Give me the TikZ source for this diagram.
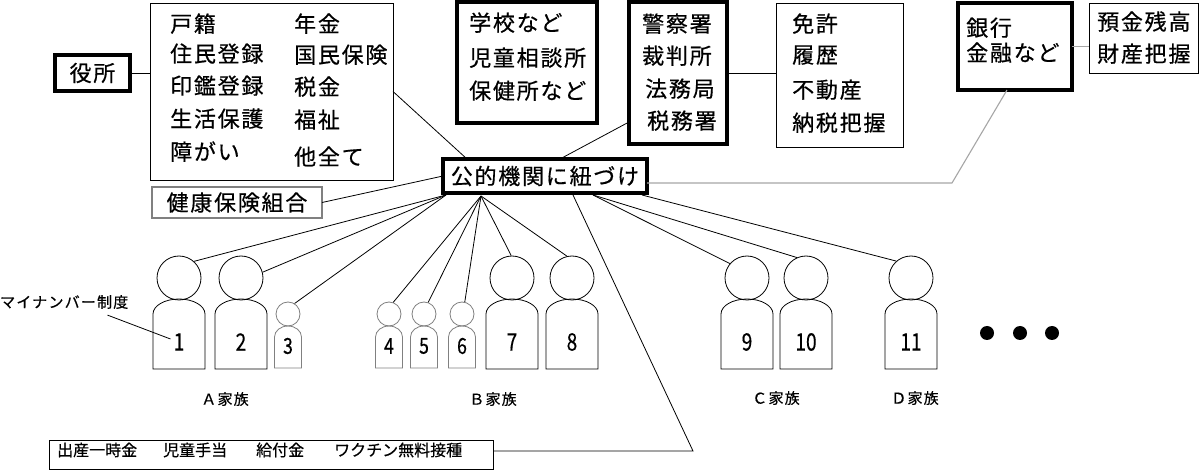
\documentclass[tikz,border=0pt]{standalone}
\usepackage{fontspec}
\setmainfont{Noto Sans CJK JP}[FakeBold=0.4]
\newfontfamily\jpfont[LetterSpace=8, FakeBold=0.5]{Noto Sans CJK JP}
\usetikzlibrary{calc}
\newcommand\jpbig{\jpfont\fontsize{22}{26}\selectfont}
\newcommand\jpsmall{\jpfont\fontsize{15}{18}\selectfont}
\newcommand\jpmid{\fontsize{16}{18}\selectfont}
\newcommand\boxat[7]{\node[#1, minimum width={#5-#3}, minimum height={#6-#4}] (#2) at ({(#3+#5)/2},{(#4+#6)/2}) {#7};}
\newcommand\bigman[3]{%
  \node[head, minimum size=44] (h#1) at (#2,278) {};
  \draw[body] (#2-26,369) -- (#2-26,314) arc[start angle=180,end angle=360,x radius=26,y radius=15] -- (#2+26,369) -- cycle;
  \node[numtext] (n#1) at (#2,342) {\scalebox{0.8}[1]{#3}};
}
\newcommand\smallman[3]{%
  \node[head, draw=gray, minimum size=24] (h#1) at (#2,314) {};
  \draw[body, draw=gray] (#2-13.5,368) -- (#2-13.5,337) arc[start angle=180,end angle=360,x radius=13.5,y radius=11] -- (#2+13.5,368) -- cycle;
  \node[numtext, font=\fontsize{22}{22}\selectfont] (n#1) at (#2,346) {\scalebox{0.8}[1]{#3}};
}
\tikzset{
  thickbox/.style={draw, line width=3.2pt, inner sep=0pt, outer sep=0pt, font=\jpbig},
  thinbox/.style={draw, line width=0.9pt, inner sep=0pt, outer sep=0pt, font=\jpbig},
  graybox/.style={draw=gray, line width=1.3pt, inner sep=0pt, outer sep=0pt, font=\jpbig},
  txt/.style={font=\jpbig, inner sep=0pt, anchor=base west},
  link/.style={line width=0.8pt},
  glink/.style={line width=1.1pt, draw=gray!70},
  head/.style={circle, draw, line width=0.8pt, inner sep=0pt},
  body/.style={line width=0.8pt},
  numtext/.style={inner sep=0pt, font=\fontsize{24}{24}\selectfont},
  famlabel/.style={inner sep=0pt, font=\jpsmall},
  dot/.style={circle, fill, minimum size=14, inner sep=0pt},
}
\begin{document}
\begin{tikzpicture}[x=1pt,y=-1pt]
\useasboundingbox[fill=white] (0,0) rectangle (1200,470);

% boxes
\boxat{thickbox}{yakusho}{55}{55}{130}{91}{役所}
\boxat{thinbox}{gyosei}{150}{3}{393}{180}{}
\boxat{graybox}{kenko}{152}{187}{322}{218}{健康保険組合}
\boxat{thickbox}{school}{457}{2}{597}{123}{}
\boxat{thickbox}{police}{629}{2}{727}{144}{}
\boxat{thinbox}{menkyo}{776}{3}{903}{147}{}
\boxat{thickbox}{k}{443}{159}{647}{193}{公的機関に紐づけ}
\boxat{thickbox}{bank}{958}{3}{1072}{90}{}
\boxat{thinbox}{yokin}{1089}{3}{1198}{73}{}
\boxat{thinbox}{kyufu}{49}{440}{493}{469}{}

% texts in the administrative box
\foreach \t/\y [count=\i] in {戸籍/32, 住民登録/62, 印鑑登録/94, 生活保護/127, 障がい/160}
  \node[txt] (gl\i) at (170,\y) {\t};
\foreach \t/\y [count=\i] in {年金/32, 国民保険/63, 税金/95, 福祉/128, 他全て/165}
  \node[txt] (gr\i) at (294,\y) {\t};
% school
\foreach \t/\y [count=\i] in {学校など/31, 児童相談所/66, 保健所など/99}
  \node[txt] (s\i) at (469,\y) {\t};
% police
\foreach \t/\y/\x [count=\i] in {警察署/32/642, 裁判所/64/642, 法務局/97/645, 税務署/129/647}
  \node[txt] (p\i) at (\x,\y) {\t};
% menkyo
\foreach \t/\y [count=\i] in {免許/32, 履歴/63, 不動産/98, 納税把握/131}
  \node[txt] (m\i) at (792,\y) {\t};
% bank
\node[txt] (b1) at (966,36) {銀行};
\node[txt] (b2) at (966,61) {金融など};
% yokin
\node[txt] (y1) at (1097,30) {預金残高};
\node[txt] (y2) at (1097,62) {財産把握};
% kyufu text
\node[inner sep=0pt, anchor=base west, font=\jpmid] (kt) at (57,456)
  {出産一時金\hspace{26pt}児童手当\hspace{29pt}給付金\hspace{30pt}ワクチン無料接種};

% people
\bigman{1}{179}{1}
\bigman{2}{241}{2}
\smallman{3}{288}{3}
\smallman{4}{389}{4}
\smallman{5}{424}{5}
\smallman{6}{462}{6}
\bigman{7}{512}{7}
\bigman{8}{572}{8}
\bigman{9}{747}{9}
\bigman{10}{806}{10}
\bigman{11}{911}{11}

\node[dot] (d1) at (987,333) {};
\node[dot] (d2) at (1020,333) {};
\node[dot] (d3) at (1052,333) {};

\node[famlabel] (fa) at (225,399) {Ａ家族};
\node[famlabel] (fb) at (493,399) {Ｂ家族};
\node[famlabel] (fc) at (776,398) {Ｃ家族};
\node[famlabel] (fd) at (915,398) {Ｄ家族};

\node[inner sep=0pt, anchor=west, font=\jpsmall] (mn) at (0,302) {マイナンバー制度};

% connectors
\draw[link] (yakusho.east) -- (yakusho.east -| gyosei.west);
\draw[link] (gyosei.east) -- ($(k.north west)+(24,0)$);
\draw[link] ($(school.south)+(-5,0)$) -- ($(school.south)+(-5,0)$ |- k.north);
\draw[link] ($(police.south west)+(0,-22)$) -- ($(k.north)+(15,0)$);
\draw[link] (police.east) -- (police.east -| menkyo.west);
\draw[glink] ($(k.east)+(0,7)$) coordinate (ke) -- (952,183) coordinate (cg) -- ($(bank.south)+(-8,0)$);
\draw[glink] (bank.east) -- (bank.east -| yokin.west);
\draw[link] (k.west) -- (kenko.east);

\coordinate (kA) at (446,195);
\coordinate (kB) at (481,196);
\coordinate (kE) at (573,195);
\coordinate (kC) at (593,195);
\coordinate (kD) at (642,195);
\coordinate (cb) at (693,451);

\draw[link] (kA) -- (h1.48);
\draw[link] (kA) -- (h2.15);
\draw[link] (kA) -- (h3.58);
\draw[link] (kB) -- (h4.70);
\draw[link] (kB) -- (h5.70);
\draw[link] (kB) -- (h6.77);
\draw[link] (kB) -- (h7.92);
\draw[link] (kB) -- (h8.103);
\draw[link] (kC) -- (h9.140);
\draw[link] (kC) -- (h10.114);
\draw[link] (kD) -- (h11.131);
\draw[link] (kE) -- (cb) -- (cb -| kyufu.east);
\draw[link] ($(mn.south east)+(-21,6)$) -- ($(n1.west)+(-3,-3)$);
\end{tikzpicture}
\end{document}
